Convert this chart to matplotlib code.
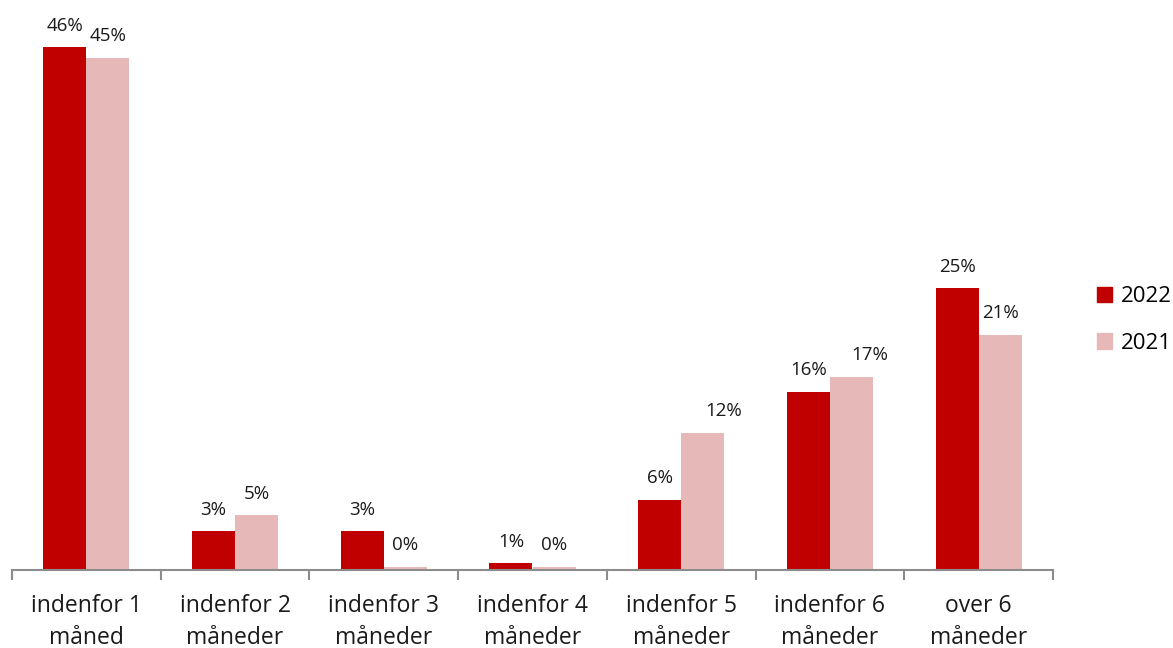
import matplotlib
matplotlib.use("Agg")
import matplotlib.pyplot as plt
import numpy as np

categories = ["indenfor 1\nmåned", "indenfor 2\nmåneder", "indenfor 3\nmåneder",
              "indenfor 4\nmåneder", "indenfor 5\nmåneder", "indenfor 6\nmåneder",
              "over 6\nmåneder"]
series_names = ["2022", "2021"]
values_2022 = [46.0, 3.4, 3.4, 0.6, 6.2, 15.7, 24.8]
values_2021 = [45.1, 4.8, 0.3, 0.3, 12.1, 17.0, 20.7]
labels_2022 = ["46%", "3%", "3%", "1%", "6%", "16%", "25%"]
labels_2021 = ["45%", "5%", "0%", "0%", "12%", "17%", "21%"]

c2022 = "#C00000"
c2021 = "#E6B9B8"

plt.rcParams['font.family'] = ['Open Sans', 'DejaVu Sans']

fig = plt.figure(figsize=(11.73, 6.48), dpi=100)
ax = fig.add_axes([12/1173, 1-570/648, (1053-12)/1173, 568/648])

n = len(categories)
x = np.arange(n)
w = 0.29
ax.bar(x - w/2, values_2022, w, color=c2022, label=series_names[0])
ax.bar(x + w/2, values_2021, w, color=c2021, label=series_names[1])

# label x offsets (in data units) for a couple of 2021 labels that are shifted right
off21 = {4: 0.14, 5: 0.12}
for i in range(n):
    ax.annotate(labels_2022[i], (x[i] - w/2, values_2022[i]), xytext=(0, 9),
                textcoords="offset points", ha="center", va="bottom", fontsize=13.5, color="#1a1a1a")
    ax.annotate(labels_2021[i], (x[i] + w/2 + off21.get(i, 0), values_2021[i]), xytext=(0, 9),
                textcoords="offset points", ha="center", va="bottom", fontsize=13.5, color="#1a1a1a")

ax.set_xlim(-0.5, n - 0.5)
ax.set_ylim(0, 50)
ax.set_yticks([])
for s in ["top", "right", "left"]:
    ax.spines[s].set_visible(False)
ax.spines["bottom"].set_color("#8c8c8c")
ax.spines["bottom"].set_linewidth(1.5)

ax.set_xticks(np.arange(n + 1) - 0.5, minor=False)
ax.set_xticklabels([""] * (n + 1))
ax.tick_params(axis="x", which="major", length=7, width=1.5, color="#8c8c8c", direction="out")
ax.set_xticks(x, minor=True)
ax.set_xticklabels(categories, minor=True, fontsize=16.5, color="#1a1a1a", linespacing=1.45)
ax.tick_params(axis="x", which="minor", length=0, pad=17)

handles = [plt.Rectangle((0, 0), 1, 1, color=c2022), plt.Rectangle((0, 0), 1, 1, color=c2021)]
fig.legend(handles, series_names, loc="center left", bbox_to_anchor=(1088/1173, 1-320/648),
           frameon=False, fontsize=16, handlelength=0.7, handleheight=0.7, handletextpad=0.4,
           labelspacing=1.15, borderaxespad=0)

fig.savefig("out.png", dpi=100)
